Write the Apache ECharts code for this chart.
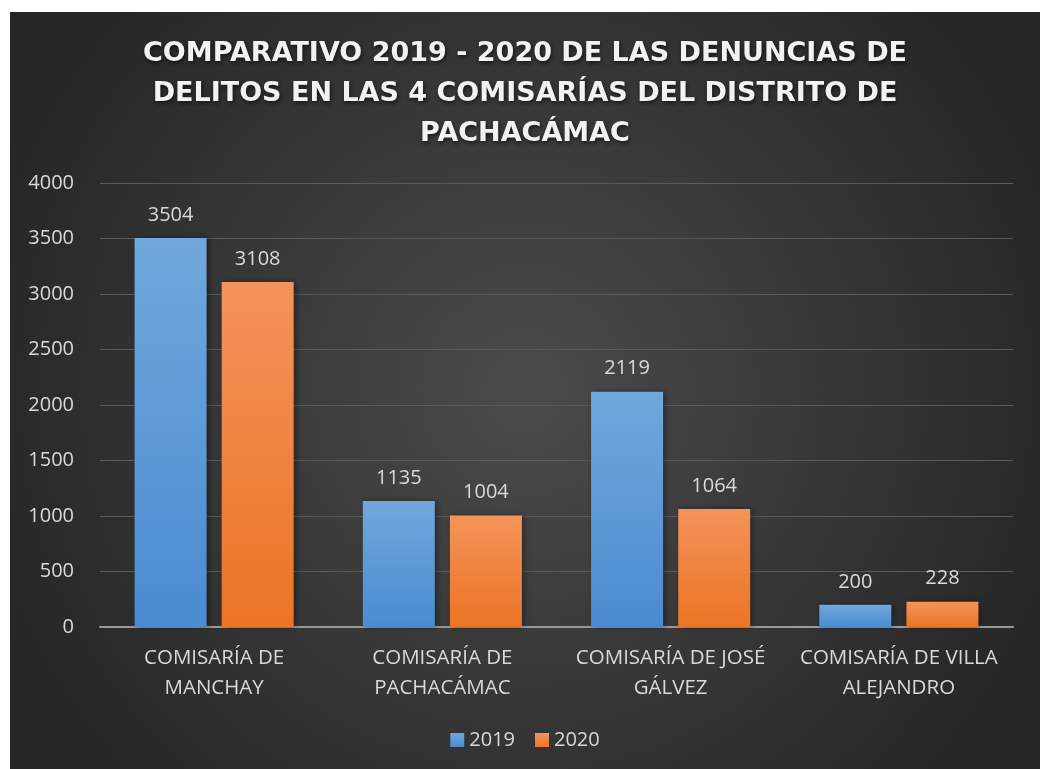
<!doctype html>
<html>
<head>
<meta charset="UTF-8">
<script src="https://cdn.jsdelivr.net/npm/echarts@6/dist/echarts.min.js"></script>
<style>
  body { margin: 0; background: #fff; }
  #chart { position: absolute; left: 10px; top: 12px; width: 1030px; height: 757px; }
</style>
</head>
<body>
<div id="chart"></div>
<script>
var categories = ['COMISARÍA DE\nMANCHAY', 'COMISARÍA DE\nPACHACÁMAC', 'COMISARÍA DE JOSÉ\nGÁLVEZ', 'COMISARÍA DE VILLA\nALEJANDRO'];
var values2019 = [3504, 1135, 2119, 200];
var values2020 = [3108, 1004, 1064, 228];
var titleText = 'COMPARATIVO 2019 - 2020 DE LAS DENUNCIAS DE\nDELITOS EN LAS 4 COMISARÍAS DEL DISTRITO DE\nPACHACÁMAC';

var myChart = echarts.init(document.getElementById('chart'));

function grad(top, bottom) {
    return new echarts.graphic.LinearGradient(0, 0, 0, 1, [
        { offset: 0, color: top },
        { offset: 1, color: bottom }
    ]);
}

var labelStyle = {
    show: true,
    position: 'top',
    distance: 13,
    color: '#d9d9d9',
    fontSize: 20,
    fontFamily: 'Open Sans'
};

var option = {
    backgroundColor: new echarts.graphic.RadialGradient(0.5, 0.5, 0.75, [
        { offset: 0, color: '#4b4b4b' },
        { offset: 1, color: '#262626' }
    ]),
    title: {
        text: titleText,
        left: 'center',
        top: 17,
        textStyle: {
            color: '#f2f2f2',
            fontFamily: 'DejaVu Sans',
            fontWeight: 'bold',
            fontSize: 27,
            lineHeight: 40,
            textShadowColor: 'rgba(0,0,0,0.6)',
            textShadowBlur: 4,
            textShadowOffsetX: 1,
            textShadowOffsetY: 2
        }
    },
    legend: {
        bottom: 14,
        left: 'center',
        itemWidth: 14,
        itemHeight: 14,
        itemGap: 20,
        icon: 'rect',
        textStyle: { color: '#d9d9d9', fontSize: 20, fontFamily: 'Open Sans' },
        data: ['2019', '2020']
    },
    grid: { left: 90, right: 27, top: 171, bottom: 142 },
    xAxis: {
        type: 'category',
        data: categories,
        axisLine: { lineStyle: { color: '#999', width: 2 } },
        axisTick: { show: false },
        axisLabel: {
            interval: 0,
            color: '#d9d9d9',
            fontSize: 20.5,
            fontFamily: 'Open Sans',
            lineHeight: 30,
            margin: 16
        }
    },
    yAxis: {
        type: 'value',
        min: 0,
        max: 4000,
        interval: 500,
        axisLine: { show: false },
        axisTick: { show: false },
        splitLine: { lineStyle: { color: '#5a5a5a', width: 1 } },
        axisLabel: {
            color: '#d9d9d9',
            fontSize: 20,
            fontFamily: 'Open Sans',
            margin: 26,
            formatter: function (v) { return String(v); }
        }
    },
    series: [
        {
            name: '2019',
            type: 'bar',
            barWidth: 72,
            barGap: '21%',
            data: values2019,
            label: labelStyle,
            itemStyle: {
                color: grad('#70a8dd', '#4a8bd0'),
                shadowColor: 'rgba(0,0,0,0.4)',
                shadowBlur: 6,
                shadowOffsetX: 2
            }
        },
        {
            name: '2020',
            type: 'bar',
            barWidth: 72,
            data: values2020,
            label: labelStyle,
            itemStyle: {
                color: grad('#f4935b', '#ec7424'),
                shadowColor: 'rgba(0,0,0,0.4)',
                shadowBlur: 6,
                shadowOffsetX: 2
            }
        }
    ]
};
myChart.setOption(option);
</script>
</body>
</html>
